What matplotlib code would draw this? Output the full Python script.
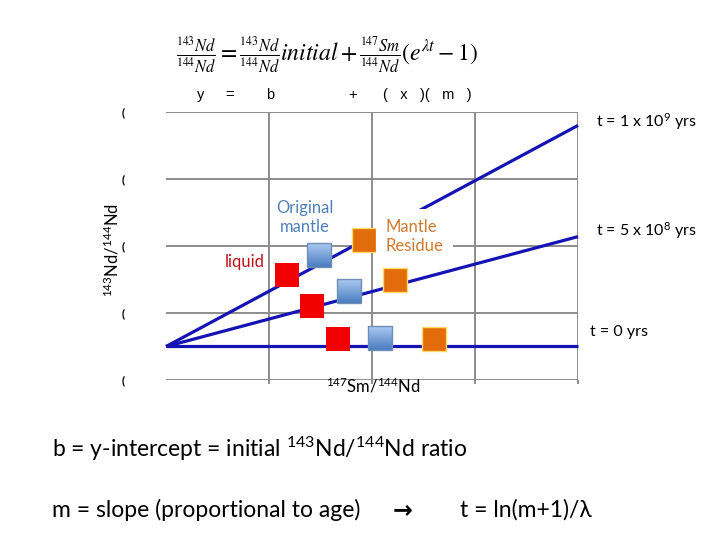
import numpy as np
import matplotlib.pyplot as plt
from matplotlib.colors import LinearSegmentedColormap
from matplotlib.patches import Rectangle

plt.rcParams['font.family'] = ['Lato', 'DejaVu Sans']
plt.rcParams['mathtext.fontset'] = 'custom'
plt.rcParams['mathtext.rm'] = 'Lato'
plt.rcParams['mathtext.it'] = 'Lato:italic'
plt.rcParams['mathtext.bf'] = 'Lato:bold'

# isochron lines: common intercept, one slope per age
intercept = 0.5
slopes = [0.0, 0.41, 0.825]
age_labels = ['t = 0 yrs', 't = 5 x 10$^{8}$ yrs', 't = 1 x 10$^{9}$ yrs']
x_range = [0, 4]

# sample squares (x, y) for each age line
liquid_x = [1.67, 1.42, 1.17]
liquid_y = [0.61, 1.11, 1.57]
mantle_x = [2.08, 1.78, 1.49]
mantle_y = [0.62, 1.33, 1.86]
residue_x = [2.60, 2.22, 1.92]
residue_y = [0.61, 1.49, 2.09]

yticks = [0, 1, 2, 3, 4]
xticks = [1, 2, 3, 4]

fig = plt.figure(figsize=(7.2, 5.4), dpi=100)
ax = fig.add_axes([0.2306, 0.2963, 0.5722, 0.4963])

for s in ax.spines.values():
    s.set_visible(False)
for yv in yticks:
    ax.axhline(yv, color='#8c8c8c', lw=1.4, zorder=1)
for xv in xticks:
    ax.axvline(xv, color='#8c8c8c', lw=1.4, zorder=1)
ax.set_xticks(xticks)
ax.set_xticklabels([])
ax.tick_params(axis='x', length=3, width=1.4, color='#8c8c8c')
ax.set_yticks(yticks)
ax.set_yticklabels(['('] * len(yticks), fontsize=8, fontweight='bold')
ax.tick_params(axis='y', length=0, pad=30)

xs = np.array(x_range)
for m in slopes:
    ax.plot(xs, intercept + m * xs, color='#1414b4', lw=2.3, zorder=2,
            solid_capstyle='butt', clip_on=False)

# square size in data units (~24 px)
w, h = 0.233, 0.358
grad = np.linspace(0, 1, 50).reshape(-1, 1)
blues = LinearSegmentedColormap.from_list('sq', ['#abcaf2', '#4a7cc0'])
for cx, cy in zip(liquid_x, liquid_y):
    ax.add_patch(Rectangle((cx - w / 2, cy - h / 2), w, h, facecolor='#f00000',
                           edgecolor='none', zorder=4))
for cx, cy in zip(mantle_x, mantle_y):
    ax.imshow(grad, cmap=blues, aspect='auto', zorder=4,
              extent=[cx - w / 2, cx + w / 2, cy - h / 2, cy + h / 2])
    ax.add_patch(Rectangle((cx - w / 2, cy - h / 2), w, h, facecolor='none',
                           edgecolor='#6f8fb5', lw=1, zorder=5))
for cx, cy in zip(residue_x, residue_y):
    ax.add_patch(Rectangle((cx - w / 2, cy - h / 2), w, h, facecolor='#e36c0a',
                           edgecolor='#ffd966', lw=1, zorder=4))
ax.set_xlim(0, 4)
ax.set_ylim(0, 4)

ax.text(1.35, 2.43, 'Original\nmantle', color='#4f81bd', fontsize=12,
        ha='center', va='center', linespacing=1.25, zorder=6)
ax.text(0.76, 1.76, 'liquid', color='#c0101a', fontsize=12, ha='center',
        va='center', zorder=6,
        bbox=dict(facecolor='white', edgecolor='none', pad=3))
ax.text(2.13, 2.14, 'Mantle\nResidue', color='#d07a30', fontsize=12,
        ha='left', va='center', linespacing=1.25, zorder=6,
        bbox=dict(facecolor='white', edgecolor='none', pad=7))

# age labels at right
fig.text(590 / 720, 1 - 332 / 540, age_labels[0], fontsize=11.5, va='center')
fig.text(596 / 720, 1 - 231 / 540, age_labels[1], fontsize=11.5, va='center')
fig.text(596 / 720, 1 - 122 / 540, age_labels[2], fontsize=11.5, va='center')

fig.text(112 / 720, 1 - 250 / 540, '$^{143}$Nd/$^{144}$Nd', rotation=90,
         fontsize=12, ha='center', va='center')
fig.text(373 / 720, 1 - 386 / 540, '$^{147}$Sm/$^{144}$Nd', fontsize=12,
         ha='center', va='center')

# equation
eq = (r'$\frac{^{143}Nd}{^{144}Nd}=\frac{^{143}Nd}{^{144}Nd}initial+'
      r'\frac{^{147}Sm}{^{144}Nd}(e^{\lambda t}-1)$')
fig.text(327 / 720, 1 - 55 / 540, eq, fontsize=17, ha='center', va='center',
         math_fontfamily='stix')
for px, s in [(201, 'y'), (230, '='), (270, 'b'), (353, '+'),
              (427, '(   x   )(   m   )')]:
    fig.text(px / 720, 1 - 95 / 540, s, fontsize=10.5, ha='center',
             va='center', family='Liberation Sans')

fig.text(52 / 720, 1 - 449 / 540,
         'b = y-intercept = initial $^{143}$Nd/$^{144}$Nd ratio',
         fontsize=16.5, va='center')
fig.text(52 / 720, 1 - 510 / 540, 'm = slope (proportional to age)',
         fontsize=16.5, va='center')
fig.text(403 / 720, 1 - 510 / 540, '\u2192', fontsize=17, va='center',
         ha='center', family='DejaVu Sans', fontweight='bold')
fig.text(460 / 720, 1 - 510 / 540, 't = ln(m+1)/\u03bb', fontsize=16.5,
         va='center')

fig.savefig('out.png', dpi=100)
